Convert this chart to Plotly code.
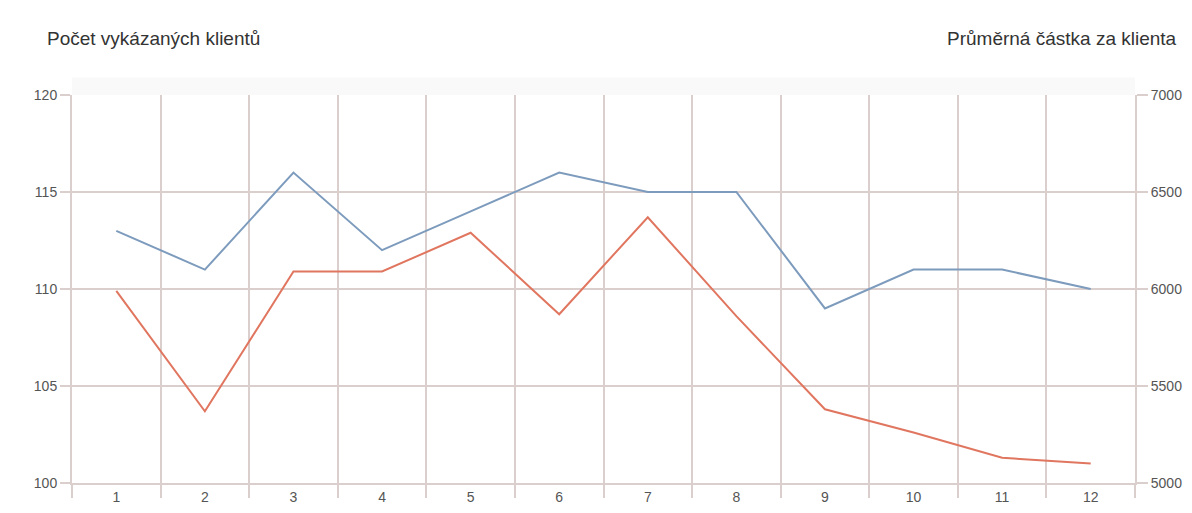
import plotly.graph_objects as go

months = ["1", "2", "3", "4", "5", "6", "7", "8", "9", "10", "11", "12"]
clients = [113, 111, 116, 112, 114, 116, 115, 115, 109, 111, 111, 110]
avg_amount = [5990, 5370, 6090, 6090, 6290, 5870, 6370, 5860, 5380, 5260, 5130, 5100]
left_ticks = [100, 105, 110, 115, 120]
right_ticks = [5000, 5500, 6000, 6500, 7000]

grid = "#dacfcc"
fig = go.Figure()
fig.add_trace(go.Scatter(x=months, y=clients, mode="lines", name="Počet vykázaných klientů",
                         line=dict(color="#7d9bbd", width=2), yaxis="y"))
fig.add_trace(go.Scatter(x=months, y=avg_amount, mode="lines", name="Průměrná částka za klienta",
                         line=dict(color="#e0765f", width=2), yaxis="y2"))

fig.update_layout(
    width=1184, height=505,
    margin=dict(l=64, r=57, t=87, b=30),
    paper_bgcolor="white", plot_bgcolor="white",
    showlegend=False,
    font=dict(family="Liberation Sans, Arial, sans-serif", size=14, color="#555"),
    xaxis=dict(type="category", range=[-0.5, 11.5], tickson="boundaries", ticks="outside", ticklen=13,
               tickcolor=grid, tickwidth=2, showgrid=True, gridcolor=grid, gridwidth=2,
               showline=True, linecolor=grid, linewidth=2, mirror=False, automargin=False,
               tickfont=dict(size=14, color="#555")),
    yaxis=dict(range=[100, 120], tickvals=left_ticks, ticktext=[str(v) for v in left_ticks],
               showgrid=True, gridcolor=grid, gridwidth=2, zeroline=False,
               showline=True, linecolor=grid, linewidth=2, automargin=False,
               ticks="outside", ticklen=10, tickcolor=grid, tickwidth=2,
               tickfont=dict(size=14, color="#555")),
    yaxis2=dict(range=[5000, 7000], tickvals=right_ticks, ticktext=[str(v) for v in right_ticks],
                overlaying="y", side="right", showgrid=False, zeroline=False,
                showline=True, linecolor=grid, linewidth=2, automargin=False,
                ticks="outside", ticklen=11, tickcolor=grid, tickwidth=2,
                tickfont=dict(size=14, color="#555")),
    shapes=[dict(type="rect", xref="paper", yref="paper", x0=0, x1=1.0, y0=1.0, y1=1.045,
                 fillcolor="#faf9f9", line=dict(width=0), layer="below")],
    annotations=[
        dict(text="Počet vykázaných klientů", xref="paper", yref="paper", x=-0.025, y=1.0,
             xanchor="left", yanchor="middle", yshift=57, showarrow=False,
             font=dict(size=19, color="#333")),
        dict(text="Průměrná částka za klienta", xref="paper", yref="paper", x=1.041, y=1.0,
             xanchor="right", yanchor="middle", yshift=57, showarrow=False,
             font=dict(size=19, color="#333")),
    ],
)
fig.write_html("out.html")
